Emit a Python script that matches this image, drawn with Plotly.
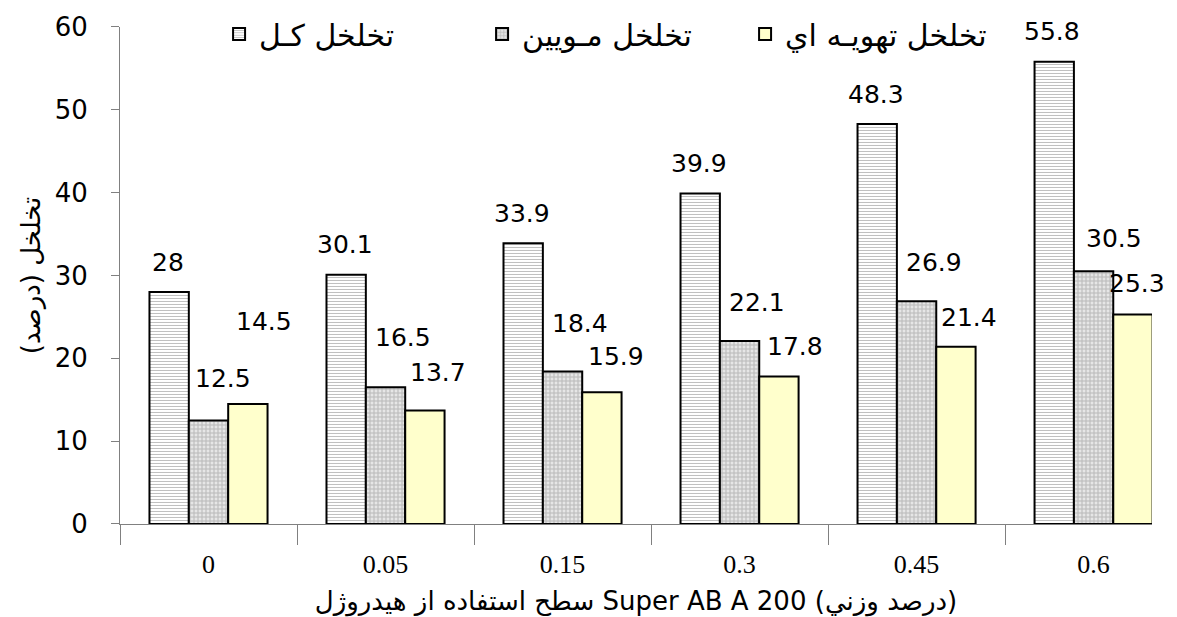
import plotly.graph_objects as go

# data
levels = ["0", "0.05", "0.15", "0.3", "0.45", "0.6"]
total_porosity = [28, 30.1, 33.9, 39.9, 48.3, 55.8]
capillary_porosity = [12.5, 16.5, 18.4, 22.1, 26.9, 30.5]
aeration_porosity = [14.5, 13.7, 15.9, 17.8, 21.4, 25.3]

series_names = ["تخلخل كـل", "تخلخل مـويين", "تخلخل تهويـه اي"]

# label placement (pixels) - the labels were nudged by hand in the original
bar_px = 39
dx_total = [-2, -2, -2, -2, -2, -3]
dx_cap = [14, 17, 17, 17, 17, 20]
dx_air = [16, 13, 14, 16, 13, 4]
lift_total = [30, 30, 30, 30, 29, 30]
lift_cap = [42, 50, 48, 38, 39, 33]
lift_air = [82, 38, 36, 30, 29, 31]

fig = go.Figure()

fig.add_trace(go.Bar(
    x=levels, y=total_porosity, name=series_names[0],
    marker=dict(color="white", line=dict(color="black", width=2),
                pattern=dict(shape="-", size=3, solidity=0.35, fgcolor="#808080",
                             bgcolor="white", fillmode="overlay"))
))
fig.add_trace(go.Bar(
    x=levels, y=capillary_porosity, name=series_names[1],
    marker=dict(color="#c8c8c8", line=dict(color="black", width=2),
                pattern=dict(shape="+", size=4, solidity=0.45, fgcolor="#8a8a8a",
                             bgcolor="#e6e6e6", fillmode="overlay"))
))
fig.add_trace(go.Bar(
    x=levels, y=aeration_porosity, name=series_names[2],
    marker=dict(color="#FFFFCC", line=dict(color="black", width=2))
))

label_font = dict(family="DejaVu Sans", size=25, color="black")
for vals, off, dxs, lifts in [(total_porosity, -bar_px, dx_total, lift_total),
                              (capillary_porosity, 0, dx_cap, lift_cap),
                              (aeration_porosity, bar_px, dx_air, lift_air)]:
    for i, v in enumerate(vals):
        fig.add_annotation(x=i, y=v, text=f"{v:g}", showarrow=False,
                           xshift=off + dxs[i], yshift=lifts[i], yanchor="middle",
                           font=label_font)

# the page body adds an 8px margin, so the figure is a little smaller than the window
fig.update_layout(
    width=1169, height=609,
    margin=dict(l=112, r=25, t=0, b=93),
    plot_bgcolor="white", paper_bgcolor="white",
    barmode="group", bargap=0.333, bargroupgap=0,
    font=dict(family="DejaVu Sans", size=25, color="black"),
    legend=dict(orientation="h", x=0.096, xanchor="left", y=1.0, yanchor="top",
                font=dict(family="DejaVu Sans", size=30), itemwidth=30,
                entrywidth=218, entrywidthmode="pixels",
                bgcolor="rgba(0,0,0,0)", tracegroupgap=0),
    xaxis=dict(
        type="category", range=[-0.5, 5.33],  # the original crops the last gap
        showline=True, linecolor="#808080", linewidth=1,
        ticks="outside", tickson="boundaries", ticklen=20, tickcolor="#808080",
        ticklabelstandoff=17, automargin=False,
        tickfont=dict(family="Liberation Serif", size=26),
        title=dict(text="سطح استفاده از هيدروژل Super AB A 200 (درصد وزني)",
                   font=dict(family="DejaVu Sans", size=26), standoff=13),
        showgrid=False,
    ),
    yaxis=dict(
        domain=[0, 0.9632], automargin=False,
        range=[0, 60], dtick=10, showline=True, linecolor="#808080", linewidth=1,
        ticks="outside", ticklen=8, tickcolor="#808080", showgrid=False,
        zeroline=False, ticklabelstandoff=18,
        tickfont=dict(family="DejaVu Sans", size=26),
        title=dict(text="تخلخل (درصد)", font=dict(family="DejaVu Sans", size=26),
                   standoff=6),
    ),
)

fig.write_html("out.html")
